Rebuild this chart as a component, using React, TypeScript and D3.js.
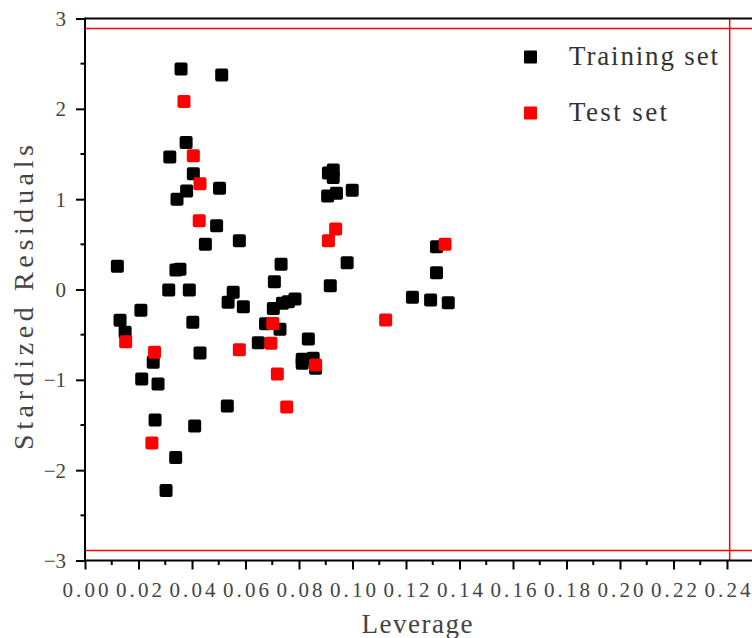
import React from 'react'
import * as d3 from 'd3'

// leverage / standardized residual pairs
const trainLeverage = [
  0.0359, 0.0511, 0.0378, 0.0317, 0.0405, 0.0503, 0.038, 0.0344, 0.0492, 0.045,
  0.0577, 0.0121, 0.034, 0.0355, 0.0313, 0.039, 0.0554, 0.0535, 0.0592, 0.0209,
  0.0131, 0.015, 0.0403, 0.043, 0.0255, 0.0212, 0.0273, 0.0532, 0.0262, 0.041,
  0.0339, 0.0303, 0.0648, 0.0675, 0.0729, 0.0708, 0.0733, 0.0704, 0.0738, 0.076,
  0.0785, 0.0835, 0.0812, 0.0812, 0.0853, 0.0862, 0.0928, 0.091, 0.0928, 0.0907,
  0.094, 0.0999, 0.098, 0.0917, 0.1314, 0.1314, 0.1224, 0.1292, 0.1358,
]
const trainResidual = [
  2.44, 2.375, 1.626, 1.467, 1.28, 1.12, 1.09, 1.0, 0.707, 0.5,
  0.54, 0.257, 0.216, 0.223, -0.005, -0.005, -0.03, -0.14, -0.19, -0.23,
  -0.34, -0.474, -0.363, -0.703, -0.806, -0.99, -1.047, -1.29, -1.445, -1.51,
  -1.86, -2.224, -0.59, -0.38, -0.44, 0.085, 0.28, -0.21, -0.153, -0.135,
  -0.105, -0.548, -0.773, -0.817, -0.762, -0.873, 1.323, 1.29, 1.24, 1.035,
  1.065, 1.1, 0.297, 0.042, 0.474, 0.186, -0.087, -0.116, -0.146,
]
const testLeverage = [
  0.037, 0.0405, 0.043, 0.0427, 0.0152, 0.026, 0.0577, 0.025, 0.0702,
  0.0695, 0.0719, 0.0754, 0.0937, 0.091, 0.0862, 0.1124, 0.1346,
]
const testResidual = [
  2.08, 1.48, 1.17, 0.76, -0.578, -0.695, -0.667, -1.7, -0.375,
  -0.596, -0.936, -1.3, 0.67, 0.54, -0.836, -0.338, 0.5,
]
const xTicks = [0, 0.02, 0.04, 0.06, 0.08, 0.1, 0.12, 0.14, 0.16, 0.18, 0.2, 0.22, 0.24]
const yTicks = [-3, -2, -1, 0, 1, 2, 3]
const residualLimit = 2.89
const leverageLimit = 0.241
const seriesNames = ['Training set', 'Test set']
const seriesColors = ['#000000', '#ff0000']

const W = 752
const H = 638
const FONT = '"Liberation Serif", "DejaVu Serif", serif'

const App = () => {
  const svgRef = React.useRef<SVGSVGElement>(null)

  React.useEffect(() => {
    const svg = d3.select(svgRef.current)
    svg.selectAll('*').remove()

    const x = d3.scaleLinear().domain([0, 0.26]).range([85, 85 + 26 * 26.75])
    const y = d3.scaleLinear().domain([-3, 3]).range([560.5, 18.5])

    // threshold lines
    const g = svg.append('g')
    g.append('line')
      .attr('x1', x(0)).attr('x2', W)
      .attr('y1', y(residualLimit)).attr('y2', y(residualLimit))
      .attr('stroke', '#ff0000').attr('stroke-width', 1.5)
    g.append('line')
      .attr('x1', x(0)).attr('x2', W)
      .attr('y1', y(-residualLimit)).attr('y2', y(-residualLimit))
      .attr('stroke', '#ff0000').attr('stroke-width', 1.5)
    g.append('line')
      .attr('x1', x(leverageLimit)).attr('x2', x(leverageLimit))
      .attr('y1', y(3)).attr('y2', y(-3))
      .attr('stroke', '#ff0000').attr('stroke-width', 1.5)

    // frame top
    svg.append('line')
      .attr('x1', x(0)).attr('x2', W)
      .attr('y1', y(3)).attr('y2', y(3))
      .attr('stroke', '#000').attr('stroke-width', 2)

    // x axis
    const xAxis = d3.axisBottom(x)
      .tickValues(xTicks)
      .tickSize(9)
      .tickFormat((d) => d3.format('.2f')(d as number))
    const xg = svg.append('g')
      .attr('transform', `translate(0,${y(-3)})`)
      .call(xAxis)
    xg.select('.domain').remove()
    xg.selectAll('line').attr('stroke', '#000').attr('stroke-width', 2)
    xg.selectAll('text')
      .attr('y', 36)
      .attr('dy', 0)
      .attr('fill', '#444')
      .attr('font-family', FONT)
      .attr('font-size', 21)
      .attr('textLength', 46)
      .attr('lengthAdjust', 'spacing')
    // minor x ticks
    svg.append('g')
      .selectAll('line')
      .data(d3.range(0.01, 0.26, 0.02))
      .join('line')
      .attr('x1', (d) => x(d)).attr('x2', (d) => x(d))
      .attr('y1', y(-3)).attr('y2', y(-3) + 4.5)
      .attr('stroke', '#000').attr('stroke-width', 2)
    svg.append('line')
      .attr('x1', x(0) - 1).attr('x2', W)
      .attr('y1', y(-3)).attr('y2', y(-3))
      .attr('stroke', '#000').attr('stroke-width', 2)

    // y axis
    const yAxis = d3.axisLeft(y)
      .tickValues(yTicks)
      .tickSize(9)
      .tickFormat((d) => d3.format('d')(d as number))
    const yg = svg.append('g')
      .attr('transform', `translate(${x(0)},0)`)
      .call(yAxis)
    yg.select('.domain').remove()
    yg.selectAll('line').attr('stroke', '#000').attr('stroke-width', 2)
    yg.selectAll('text')
      .attr('x', -19)
      .attr('dy', '0.34em')
      .attr('fill', '#444')
      .attr('font-family', FONT)
      .attr('font-size', 21)
    svg.append('g')
      .selectAll('line')
      .data(d3.range(-2.5, 3, 1))
      .join('line')
      .attr('x1', x(0) - 4.5).attr('x2', x(0))
      .attr('y1', (d) => y(d)).attr('y2', (d) => y(d))
      .attr('stroke', '#000').attr('stroke-width', 2)
    svg.append('line')
      .attr('x1', x(0)).attr('x2', x(0))
      .attr('y1', y(3) - 1).attr('y2', y(-3) + 1)
      .attr('stroke', '#000').attr('stroke-width', 2)

    // titles
    svg.append('text')
      .attr('x', 417).attr('y', 633)
      .attr('text-anchor', 'middle')
      .attr('fill', '#444')
      .attr('font-family', FONT)
      .attr('font-size', 27)
      .attr('textLength', 111)
      .attr('lengthAdjust', 'spacing')
      .text('Leverage')
    svg.append('text')
      .attr('transform', 'translate(33,297.5) rotate(-90)')
      .attr('text-anchor', 'middle')
      .attr('fill', '#444')
      .attr('font-family', FONT)
      .attr('font-size', 28)
      .attr('textLength', 305)
      .attr('lengthAdjust', 'spacing')
      .text('Stardized Residuals')

    // points
    const size = 13
    const sets = [
      d3.zip(trainLeverage, trainResidual),
      d3.zip(testLeverage, testResidual),
    ]
    sets.forEach((pts, i) => {
      svg.append('g')
        .selectAll('rect')
        .data(pts)
        .join('rect')
        .attr('x', (d) => x(d[0]) - size / 2)
        .attr('y', (d) => y(d[1]) - size / 2)
        .attr('width', size)
        .attr('height', size)
        .attr('rx', 2)
        .attr('fill', seriesColors[i])
    })

    // legend
    const legend = svg.append('g')
    seriesNames.forEach((name, i) => {
      const cy = 57 + i * 56
      legend.append('rect')
        .attr('x', 524).attr('y', cy - 6.5)
        .attr('width', 13).attr('height', 13)
        .attr('rx', 1)
        .attr('fill', seriesColors[i])
      legend.append('text')
        .attr('x', 569).attr('y', cy + 8)
        .attr('fill', '#333')
        .attr('font-family', FONT)
        .attr('font-size', 27)
        .attr('textLength', i === 0 ? 149 : 98)
        .attr('lengthAdjust', 'spacing')
        .text(name)
    })
  }, [])

  return (
    <div style={{ position: 'fixed', left: 0, top: 0, width: W, height: H, background: '#fff' }}>
      <svg ref={svgRef} width={W} height={H} style={{ display: 'block' }} />
    </div>
  )
}

export default App
